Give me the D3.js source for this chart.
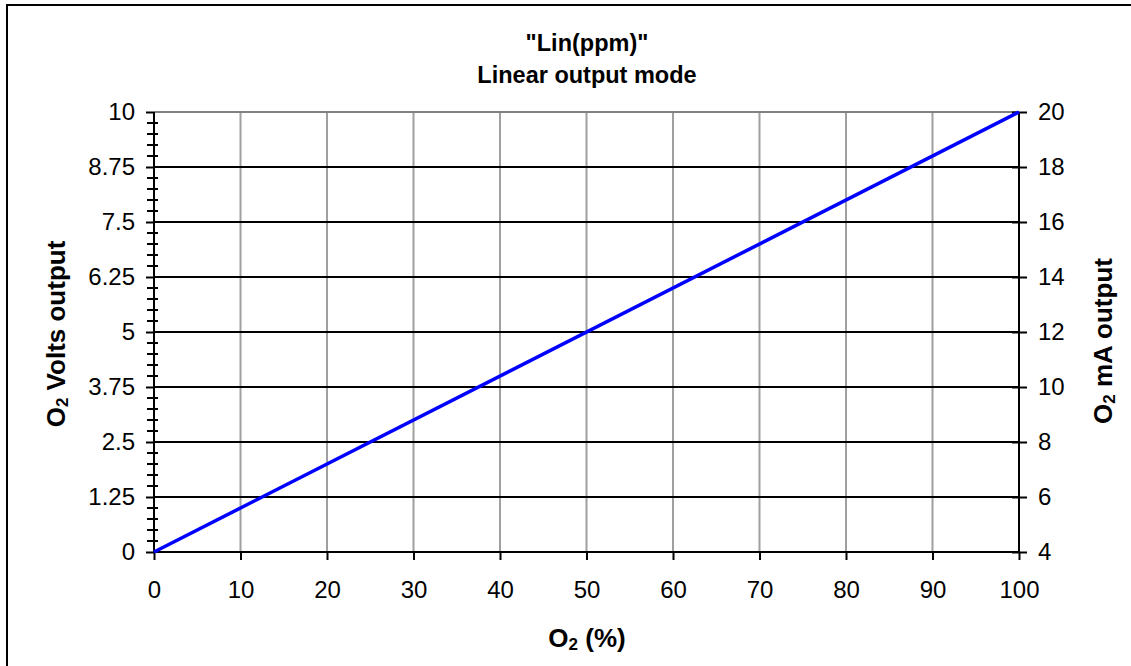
<!DOCTYPE html>
<html>
<head>
<meta charset="utf-8">
<script src="https://cdn.jsdelivr.net/npm/d3@7"></script>
<style>
  body { margin: 0; background: #fff; }
  text { font-family: "Liberation Sans", Arial, sans-serif; fill: #000; }
</style>
</head>
<body>
<svg id="chart" width="1131" height="666"></svg>
<script>
// data
var o2Percent = [0, 100];
var voltsOut = [0, 10];
var xTicks = [0, 10, 20, 30, 40, 50, 60, 70, 80, 90, 100];
var voltTicks = [0, 1.25, 2.5, 3.75, 5, 6.25, 7.5, 8.75, 10];
var mATicks = [4, 6, 8, 10, 12, 14, 16, 18, 20];

var svg = d3.select("#chart");

// outer chart frame (cropped at right / bottom)
svg.append("rect")
    .attr("x", 7).attr("y", 5)
    .attr("width", 1140).attr("height", 680)
    .attr("fill", "none")
    .attr("stroke", "#000")
    .attr("stroke-width", 2);

var plotL = 154, plotR = 1019, plotT = 112, plotB = 552;

var x = d3.scaleLinear().domain([0, 100]).range([plotL, plotR]);
var yV = d3.scaleLinear().domain([0, 10]).range([plotB, plotT]);
var yA = d3.scaleLinear().domain([4, 20]).range([plotB, plotT]);

// gridlines
svg.append("g").selectAll("line")
    .data(xTicks.slice(1, -1))
  .join("line")
    .attr("x1", d => x(d)).attr("x2", d => x(d))
    .attr("y1", plotT).attr("y2", plotB)
    .attr("stroke", "#a0a0a0").attr("stroke-width", 2);

svg.append("g").selectAll("line")
    .data(voltTicks.slice(1, -1))
  .join("line")
    .attr("x1", plotL).attr("x2", plotR)
    .attr("y1", d => yV(d)).attr("y2", d => yV(d))
    .attr("stroke", "#000").attr("stroke-width", 2);

// top edge of plot
svg.append("line")
    .attr("x1", plotL).attr("x2", plotR)
    .attr("y1", plotT).attr("y2", plotT)
    .attr("stroke", "#808080").attr("stroke-width", 2);

// minor ticks on left axis (every 0.25)
var minor = d3.range(0, 10.001, 0.25).filter(v => Math.abs(v / 1.25 - Math.round(v / 1.25)) > 1e-6);
svg.append("g").selectAll("line")
    .data(minor)
  .join("line")
    .attr("x1", plotL - 7).attr("x2", plotL + 4)
    .attr("y1", d => yV(d)).attr("y2", d => yV(d))
    .attr("stroke", "#000").attr("stroke-width", 2);

// axes
var fs = "24px";
var gl = svg.append("g").attr("transform", "translate(" + plotL + ",0)")
    .call(d3.axisLeft(yV).tickValues(voltTicks).tickSize(8).tickPadding(11)
      .tickFormat(d => d3.format("")(d)));
var gr = svg.append("g").attr("transform", "translate(" + plotR + ",0)")
    .call(d3.axisRight(yA).tickValues(mATicks).tickSize(8).tickPadding(11));
var gb = svg.append("g").attr("transform", "translate(0," + plotB + ")")
    .call(d3.axisBottom(x).tickValues(xTicks).tickSize(8).tickPadding(21));

[gl, gr, gb].forEach(function(g) {
  g.select(".domain").attr("stroke", "#000").attr("stroke-width", 2);
  g.selectAll(".tick line").attr("stroke", "#000").attr("stroke-width", 2);
  g.selectAll(".tick text").attr("font-size", fs).attr("font-family", "Liberation Sans, Arial, sans-serif");
});
gr.selectAll(".tick line").attr("x1", -7);
gl.select(".domain").attr("d", "M0," + plotT + "V" + plotB);
gr.select(".domain").attr("d", "M0," + plotT + "V" + plotB);
gb.select(".domain").attr("d", "M" + plotL + ",0H" + plotR);

// data line
svg.append("path")
    .datum(o2Percent.map((p, i) => [p, voltsOut[i]]))
    .attr("fill", "none")
    .attr("stroke", "#0000ff")
    .attr("stroke-width", 3.5)
    .attr("d", d3.line().x(d => x(d[0])).y(d => yV(d[1])));

// titles
var tfs = "23.5px";
svg.append("text").attr("x", 587).attr("y", 51)
    .attr("text-anchor", "middle").attr("font-size", tfs).attr("font-weight", "bold")
    .text('"Lin(ppm)"');
svg.append("text").attr("x", 587).attr("y", 83)
    .attr("text-anchor", "middle").attr("font-size", tfs).attr("font-weight", "bold")
    .text("Linear output mode");

function o2Label(sel, rest) {
  sel.attr("font-size", "26px").attr("font-weight", "bold").attr("text-anchor", "middle");
  sel.append("tspan").text("O");
  sel.append("tspan").attr("font-size", "17px").attr("dy", 3).text("2");
  sel.append("tspan").attr("dy", -3).text(rest);
}

o2Label(svg.append("text").attr("x", 587).attr("y", 647), " (%)");
o2Label(svg.append("text").attr("transform", "translate(65,334) rotate(-90)"), " Volts output");
o2Label(svg.append("text").attr("transform", "translate(1112,341) rotate(-90)"), " mA output");
</script>
</body>
</html>
